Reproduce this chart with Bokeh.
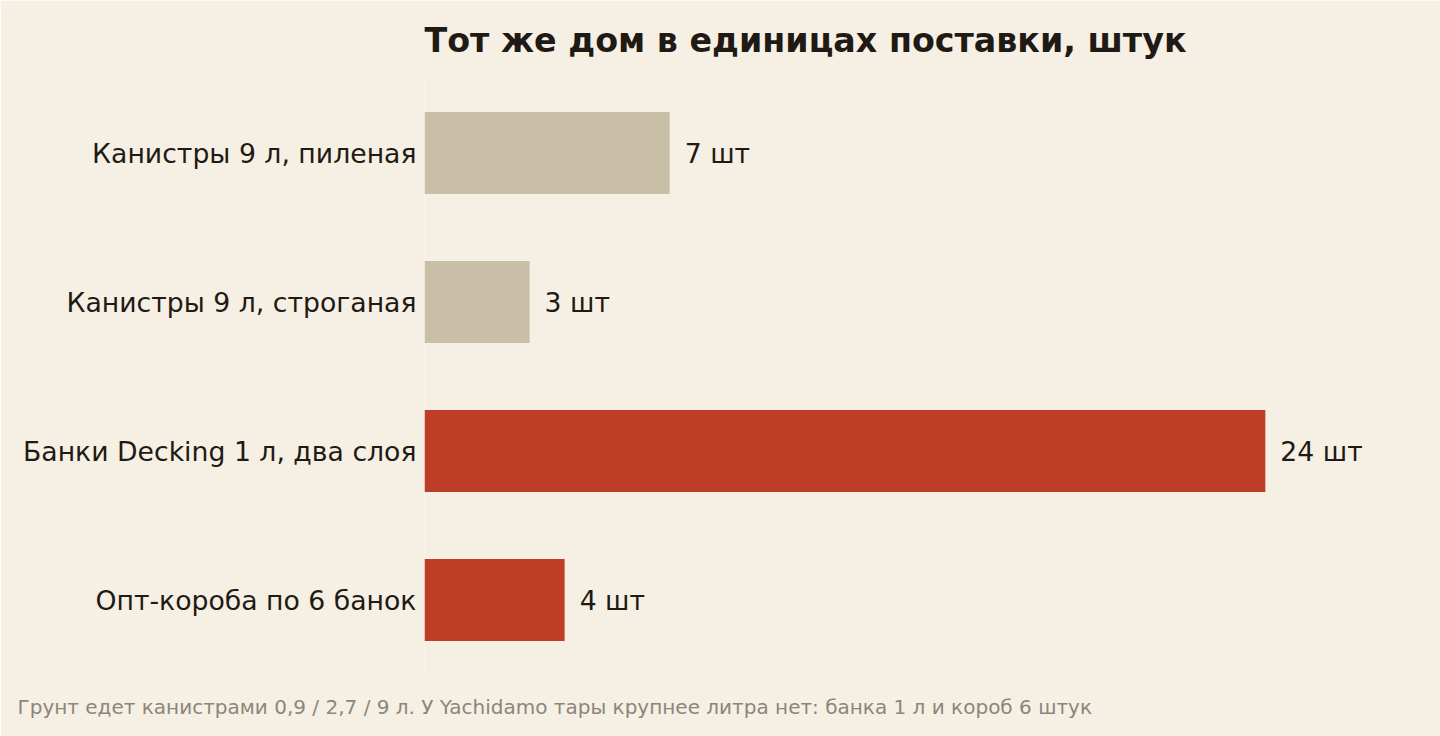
from bokeh.plotting import figure
from bokeh.models import ColumnDataSource, FactorRange, Title
from bokeh.core.properties import value
from bokeh.embed import file_html
from bokeh.resources import INLINE

categories = [
    "Канистры 9 л, пиленая",
    "Канистры 9 л, строганая",
    "Банки Decking 1 л, два слоя",
    "Опт-короба по 6 банок",
]
counts = [7, 3, 24, 4]
bar_colors = ["#c9bfa7", "#c9bfa7", "#bd3d26", "#bd3d26"]
value_labels = [f"{c} шт" for c in counts]

title_text = "Тот же дом в единицах поставки, штук"
footer_text = "Грунт едет канистрами 0,9 / 2,7 / 9 л. У Yachidamo тары крупнее литра нет: банка 1 л и короб 6 штук"

BG = "#f6f0e4"
INK = "#1f1a14"
FONT = "DejaVu Sans"

source = ColumnDataSource(dict(cat=categories, n=counts, color=bar_colors, label=value_labels))

p = figure(
    width=1440,
    height=736,
    y_range=FactorRange(factors=list(reversed(categories))),
    x_range=(0, 29.0),
    output_backend="svg",
    toolbar_location=None,
    min_border_left=424,
    min_border_right=0,
    min_border_top=78,
    min_border_bottom=62,
)
p.background_fill_color = BG
p.border_fill_color = BG
p.outline_line_color = None
p.grid.grid_line_color = None

p.title.text = title_text
p.title.align = "left"
p.title.text_font = FONT
p.title.text_font_size = "33.3px"
p.title.text_font_style = "bold"
p.title.text_color = INK
p.title.standoff = 37

footer = Title(text=footer_text, align="left", offset=-407, standoff=36,
               text_font=FONT, text_font_size="20px", text_font_style="normal",
               text_color="#8c857a")
p.add_layout(footer, "below")

p.hbar(y="cat", right="n", left=0, height=0.55, color="color", line_color=None, source=source)
p.text(x="n", y="cat", text="label", source=source, x_offset=15,
       text_baseline="middle", text_align="left", text_font=value(FONT),
       text_font_size="26.7px", text_color=INK)

p.xaxis.visible = False
p.yaxis.axis_line_color = None
p.yaxis.major_tick_line_color = None
p.yaxis.minor_tick_line_color = None
p.yaxis.major_tick_out = 0
p.yaxis.major_tick_in = 0
p.yaxis.major_label_standoff = 8
p.yaxis.major_label_text_font = FONT
p.yaxis.major_label_text_font_size = "26.7px"
p.yaxis.major_label_text_color = INK

open("out.html", "w").write(file_html(p, INLINE))
